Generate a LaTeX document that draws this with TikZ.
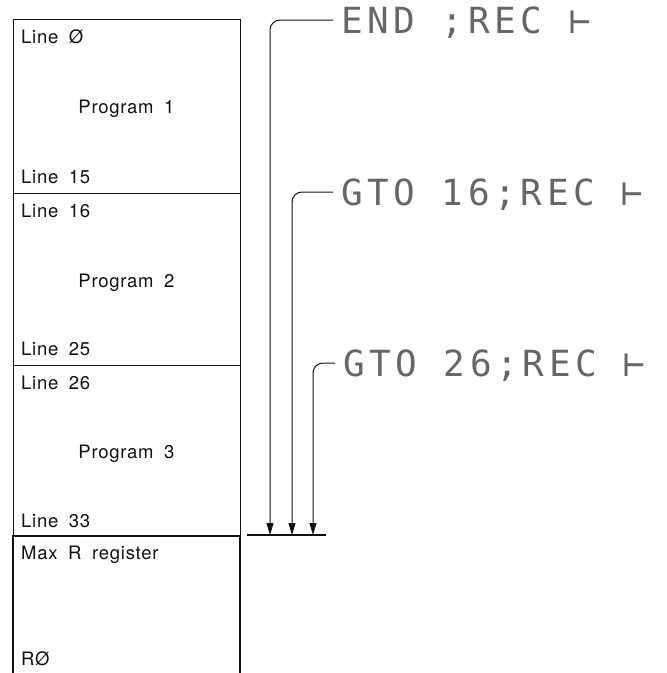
\documentclass[tikz,border=0pt]{standalone}
\usepackage{fontspec}
\setmainfont{TeX Gyre Heros}[LetterSpace=4,WordSpace=1.8]
\newfontfamily\lcdfont{DejaVu Sans Mono}[LetterSpace=13]
\usepackage{xcolor}
\definecolor{ink}{HTML}{111111}
\definecolor{lcd}{HTML}{666666}
\usepackage{tikz}
\usetikzlibrary{positioning, arrows.meta, calc}
\tikzset{
    block/.style = {rectangle, draw=ink, line width=1.4pt, anchor=north west,
                    minimum width=227pt, inner sep=0pt},
    tag/.style = {anchor=base west, inner sep=0pt, text=ink,
                  font=\fontsize{18.5}{20}\selectfont},
    prog/.style = {anchor=base, inner sep=0pt, text=ink,
                   font=\fontsize{18.5}{20}\selectfont},
    keys/.style = {anchor=west, inner xsep=8pt, inner ysep=0pt, text=lcd,
                   text height=26pt, text depth=0pt,
                   font=\lcdfont\fontsize{36}{40}\selectfont},
    arrow/.style = {-{Triangle[length=12pt,width=7pt]}, line width=1pt,
                    color=ink, rounded corners=10pt},
}

\begin{document}
\begin{tikzpicture}[x=1pt, y=-1pt]
        \useasboundingbox (0,0) rectangle (667,673);
        % memory column
        \node[block, minimum height=174pt] (prog1) at (13,19) {};
        \node[block, minimum height=172pt] (prog2) at (13,193) {};
        \node[block, minimum height=171pt] (prog3) at (13,365) {};
        \draw[ink, line width=1.4pt] (13,673) -- (13,536) -- (240,536) -- (240,673);
        \node[tag] (line0) at (21,43) {Line Ø};
        \node[prog] (p1) at (126.5,113) {Program 1};
        \node[tag] (line15) at (21,183) {Line 15};
        \node[tag] (line16) at (21,217) {Line 16};
        \node[prog] (p2) at (126.5,287) {Program 2};
        \node[tag] (line25) at (21,355) {Line 25};
        \node[tag] (line26) at (21,389) {Line 26};
        \node[prog] (p3) at (126.5,458) {Program 3};
        \node[tag] (line33) at (21,527) {Line 33};
        \node[tag] (maxr) at (21,559) {Max R register};
        \node[tag] (r0) at (21,665) {RØ};
        % key sequences
        \node[keys] (k1) at (333,20) {END ;REC ⊢};
        \node[keys] (k2) at (333,192) {GTO 16;REC ⊢};
        \node[keys] (k3) at (335,363) {GTO 26;REC ⊢};
        \coordinate (stopL) at (247,535);
        \coordinate (stopR) at (326,535);
        \coordinate (tipA) at (270,535);
        \coordinate (tipB) at (292,535);
        \coordinate (tipC) at (313,535);
        \draw[ink, line width=1.2pt] (stopL) -- (stopR);
        \draw[arrow] (k1.west) -| (tipA);
        \draw[arrow] (k2.west) -| (tipB);
        \draw[arrow] (k3.west) -| (tipC);
      \end{tikzpicture}
\end{document}
